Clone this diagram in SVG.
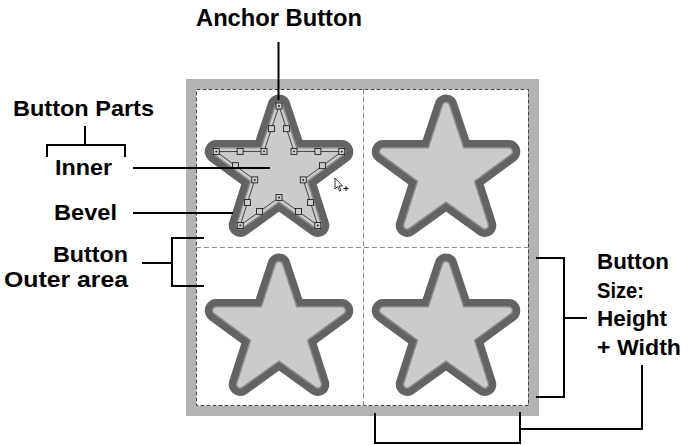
<svg xmlns="http://www.w3.org/2000/svg" xmlns:xlink="http://www.w3.org/1999/xlink" width="689" height="445" viewBox="0 0 689 445">
<style>
.lbl{font-family:"Liberation Sans",Arial,sans-serif;font-weight:bold;font-size:22px;fill:#000}
.con{fill:none;stroke:#000;stroke-width:2}
.s1{fill:#636363;stroke:#636363;stroke-width:23;stroke-linejoin:round}
.s2{fill:#8a8a8a;stroke:#8a8a8a;stroke-width:9;stroke-linejoin:round}
.s3{fill:#cbcbcb;stroke:#cbcbcb;stroke-width:6;stroke-linejoin:round}
.cp{fill:#cbcbcb;stroke:#111;stroke-width:0.8}
.dot{fill:#111}
</style>
<defs>
<polygon id="star" points="0,-66 14.99,-20.63 62.77,-20.39 24.25,7.88 38.79,53.39 0,25.5 -38.79,53.39 -24.25,7.88 -62.77,-20.39 -14.99,-20.63"/>
<g id="starBtn">
<use xlink:href="#star" class="s1"/>
<use xlink:href="#star" class="s2"/>
<use xlink:href="#star" class="s3"/>
</g>
<rect id="sq" x="-3" y="-3" width="6" height="6" class="cp"/>
</defs>
<rect width="689" height="445" fill="#fff"/>
<g id="frame">
<rect x="186" y="79" width="353" height="337" fill="#b3b3b3"/>
<rect x="196" y="89" width="332" height="317" fill="#fff"/>
<rect x="196.5" y="89.5" width="332" height="316" fill="none" stroke="#444" stroke-width="1" stroke-dasharray="4 2"/>
<path d="M363.5 89 V406 M196 247.5 H528" fill="none" stroke="#888" stroke-width="1" stroke-dasharray="5 3"/>
</g>
<g id="star-tl" transform="translate(279,172)">
<use xlink:href="#starBtn"/>
<use xlink:href="#star" fill="none" stroke="#222" stroke-width="0.8"/>
<use xlink:href="#sq" x="0" y="-66"/><use xlink:href="#sq" x="14.99" y="-20.63"/><use xlink:href="#sq" x="62.77" y="-20.39"/><use xlink:href="#sq" x="24.25" y="7.88"/><use xlink:href="#sq" x="38.79" y="53.39"/><use xlink:href="#sq" x="0" y="25.5"/><use xlink:href="#sq" x="-38.79" y="53.39"/><use xlink:href="#sq" x="-24.25" y="7.88"/><use xlink:href="#sq" x="-62.77" y="-20.39"/><use xlink:href="#sq" x="-14.99" y="-20.63"/>
<g class="dot">
<circle cx="0" cy="-66" r="0.9"/><circle cx="14.99" cy="-20.63" r="0.9"/><circle cx="62.77" cy="-20.39" r="0.9"/><circle cx="24.25" cy="7.88" r="0.9"/><circle cx="38.79" cy="53.39" r="0.9"/><circle cx="0" cy="25.5" r="0.9"/><circle cx="-38.79" cy="53.39" r="0.9"/><circle cx="-24.25" cy="7.88" r="0.9"/><circle cx="-62.77" cy="-20.39" r="0.9"/><circle cx="-14.99" cy="-20.63" r="0.9"/>
</g>
<use xlink:href="#sq" x="7.5" y="-43.3"/><use xlink:href="#sq" x="-7.5" y="-43.3"/>
<use xlink:href="#sq" x="38.9" y="-20.5"/><use xlink:href="#sq" x="-38.9" y="-20.5"/>
<use xlink:href="#sq" x="43.5" y="-6.3"/><use xlink:href="#sq" x="-43.5" y="-6.3"/>
<use xlink:href="#sq" x="31.5" y="30.6"/><use xlink:href="#sq" x="-31.5" y="30.6"/>
<use xlink:href="#sq" x="19.4" y="39.4"/><use xlink:href="#sq" x="-19.4" y="39.4"/>
</g>
<g id="star-tr" transform="translate(446,172)"><use xlink:href="#starBtn"/></g>
<g id="star-bl" transform="translate(279,331)"><use xlink:href="#starBtn"/></g>
<g id="star-br" transform="translate(446,331)"><use xlink:href="#starBtn"/></g>
<g id="cursor">
<path d="M335 178 L335 189 L337.5 186.5 L339.5 191 L341 190.3 L339 186 L342.5 186 Z" fill="#fff" stroke="#000" stroke-width="0.8" stroke-linejoin="round"/>
<path d="M343.5 188.5 H348.5 M346 186 V191" stroke="#000" stroke-width="1" fill="none"/>
</g>
<g id="labels">
<text class="lbl" x="196" y="26" textLength="166" lengthAdjust="spacingAndGlyphs" style="font-size:23px">Anchor Button</text>
<text class="lbl" x="13" y="116" textLength="141" lengthAdjust="spacingAndGlyphs">Button Parts</text>
<text class="lbl" x="55" y="175" textLength="57" lengthAdjust="spacingAndGlyphs">Inner</text>
<text class="lbl" x="54" y="220" textLength="63" lengthAdjust="spacingAndGlyphs">Bevel</text>
<text class="lbl" x="53" y="262" textLength="75" lengthAdjust="spacingAndGlyphs">Button</text>
<text class="lbl" x="4" y="287" textLength="124" lengthAdjust="spacingAndGlyphs">Outer area</text>
<text class="lbl" x="597" y="269" textLength="72" lengthAdjust="spacingAndGlyphs">Button</text>
<text class="lbl" x="597" y="298" textLength="47" lengthAdjust="spacingAndGlyphs">Size:</text>
<text class="lbl" x="597" y="326" textLength="70" lengthAdjust="spacingAndGlyphs">Height</text>
<text class="lbl" x="597" y="355" textLength="84" lengthAdjust="spacingAndGlyphs">+ Width</text>
</g>
<g id="connectors">
<path class="con" d="M278.5 42 V100"/>
<path class="con" d="M85 126 V145 M47 157 V145 H125 V157"/>
<path class="con" d="M133 168 H270"/>
<path class="con" d="M133 213 H233"/>
<path class="con" d="M142 263 H172 M204 238 H172 V286 H204"/>
<path class="con" d="M536 258 H564 V397 H536 M564 318 H587"/>
<path class="con" d="M375 413 V443 H520 V412 M520 429 H642 V365"/>
</g>
</svg>
